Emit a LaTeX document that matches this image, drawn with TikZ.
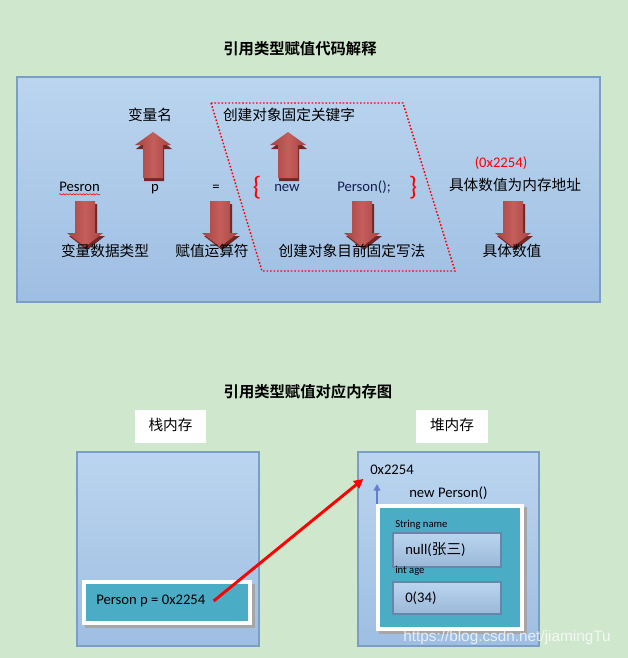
\documentclass[tikz,border=0pt]{standalone}
\usepackage{fontspec}
\setmainfont{Carlito}
\newfontfamily\cjk{Noto Sans CJK SC}[BoldFont={Noto Sans CJK SC Bold}]
\newfontfamily\wmfont{Liberation Sans}
\usetikzlibrary{arrows.meta,decorations.pathmorphing}

\definecolor{bggreen}{RGB}{207,231,204}
\definecolor{paneltop}{RGB}{187,213,239}
\definecolor{panelbot}{RGB}{158,190,226}
\definecolor{panelline}{RGB}{122,158,198}
\definecolor{objteal}{RGB}{75,172,198}
\definecolor{arrowred}{RGB}{192,80,77}
\definecolor{arrowshade}{RGB}{115,38,36}
\definecolor{codeblue}{RGB}{20,30,80}

\tikzset{
  panel/.style={draw=panelline, line width=1.5pt, top color=paneltop, bottom color=panelbot},
  field/.style={draw=panelline!85!black, line width=1.5pt, top color=paneltop, bottom color=panelbot!90!gray},
  cn/.style={font=\cjk\fontsize{11}{13}\selectfont, inner sep=0pt, text height=0.75em, text depth=0.2em},
  code/.style={font=\fontsize{11}{13}\selectfont, inner sep=0pt, text height=0.75em, text depth=0.2em},
  small/.style={font=\fontsize{8}{10}\selectfont, inner sep=0pt, anchor=west},
  title/.style={font=\cjk\bfseries\fontsize{11.5}{14}\selectfont, inner sep=0pt},
  brace/.style={font=\fontsize{20}{22}\selectfont, text=red, inner sep=0pt},
  arrowbody/.style={left color=arrowred!85!black, right color=arrowred!85!black, middle color=arrowred!92!white},
  refline/.style={red, line width=2.2pt, -{Triangle[length=7pt,width=7pt]}},
  ptr/.style={panelline!80!blue, line width=1.2pt, -{Triangle[length=5pt,width=5pt]}},
  blockdown/.pic={
    \fill[arrowshade] (-8,3) -- (12,3) -- (12,35) -- (20,35) -- (2,49) -- (-16,35) -- (-8,35) -- cycle;
    \shade[arrowbody] (-10,0) -- (10,0) -- (10,32) -- (18,32) -- (0,46) -- (-18,32) -- (-10,32) -- cycle;
  },
  blockup/.pic={
    \fill[arrowshade] (1,3) -- (19,17) -- (11,17) -- (11,49) -- (-9,49) -- (-9,17) -- (-17,17) -- cycle;
    \shade[arrowbody] (0,0) -- (18,13) -- (10,13) -- (10,46) -- (-10,46) -- (-10,13) -- (-18,13) -- cycle;
  }
}

\begin{document}
\begin{tikzpicture}[x=0.75pt,y=-0.75pt]
\fill[bggreen] (0,0) rectangle (628,658);

% code explanation
\node[title] (title1) at (300,49) {引用类型赋值代码解释};
\draw[panel] (17,77) rectangle (600,302);
\draw[red, line width=1.1pt, dash pattern=on 1.2pt off 1.4pt] (211,103) -- (403,103) -- (455,271) -- (262,271) -- cycle;

\node[cn] (varname) at (150,117) {变量名};
\node[cn] (keyword) at (289,117) {创建对象固定关键字};
\pic at (153,132) {blockup};
\pic at (288,132) {blockup};

\node[code, anchor=west] (pesron) at (59,188) {Pesron};
\draw[red, decorate, decoration={snake, amplitude=0.5pt, segment length=2.5pt}]
  ([yshift=-2pt]pesron.base west) -- ([yshift=-2pt]pesron.base east);
\node[code] (pvar) at (155,188) {p};
\node[code] (assign) at (216,188) {=};
\node[brace] (lbrace) at (257,188) {\{};
\node[code, text=codeblue] (newkw) at (287,188) {new};
\node[code, text=codeblue] (ctor) at (364,188) {Person();};
\node[brace] (rbrace) at (413,188) {\}};
\node[code, text=red] (addrval) at (501,164) {(0x2254)};
\node[cn] (addrnote) at (515,187) {具体数值为内存地址};

\pic at (85,201) {blockdown};
\pic at (220,201) {blockdown};
\pic at (362,201) {blockdown};
\pic at (513,201) {blockdown};

\node[cn] (typelbl) at (105,253) {变量数据类型};
\node[cn] (oplbl) at (212,253) {赋值运算符};
\node[cn] (ctorlbl) at (352,253) {创建对象目前固定写法};
\node[cn] (vallbl) at (512,253) {具体数值};

% memory picture
\node[title] (title2) at (308,392) {引用类型赋值对应内存图};
\fill[white] (135,410) rectangle (206,443);
\node[cn] (stacklbl) at (170.5,426.5) {栈内存};
\fill[white] (416,410) rectangle (488,443);
\node[cn] (heaplbl) at (452,426.5) {堆内存};

\draw[panel] (77,452) rectangle (259,646);
\draw[panel] (358,452) rectangle (539,646);

% stack variable
\fill[gray!70] (85,584) rectangle (255,628);
\fill[white] (82,580) rectangle (252,625);
\fill[objteal] (86,584) rectangle (248,621);
\node[code, anchor=west] (ptext) at (96,601) {Person p = 0x2254};

% heap object
\node[code, anchor=west] (addr) at (370,471) {0x2254};
\node[code, anchor=west] (newp) at (409,494) {new Person()};
\fill[gray!70] (379,507) rectangle (527,634);
\fill[white] (376,504) rectangle (524,631);
\fill[objteal] (380,508) rectangle (520,627);
\coordinate (objtop) at (377,504);
\node[small] (strname) at (395,525) {String name};
\draw[field] (393,533) rectangle (501,567);
\node[code, anchor=west] (nameval) at (405,551) {null({\cjk 张三})};
\node[small] (intage) at (395,571) {int age};
\draw[field] (393,582) rectangle (501,614);
\node[code, anchor=west] (ageval) at (405,599) {0(34)};

\draw[ptr] (objtop) -- ++(0,-20);
\draw[refline] ([xshift=6pt]ptext.east) -- ([xshift=-5pt,yshift=-1pt]addr.south west);

\node[anchor=west, inner sep=0pt, font=\wmfont\fontsize{11.5}{13}\selectfont, text=white, opacity=0.75] (mark) at (403,638) {https://blog.csdn.net/jiamingTu};
\end{tikzpicture}
\end{document}
